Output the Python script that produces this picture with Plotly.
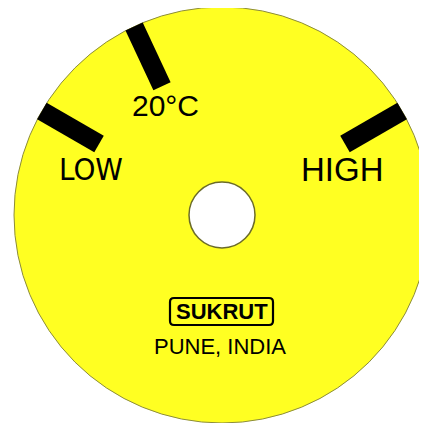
import numpy as np
import plotly.graph_objects as go

# ---- data ----
tick_labels = ["LOW", "20°C", "HIGH"]
tick_angles_deg = [150, 115, 30]      # dial angle of each black mark
brand = "SUKRUT"
place = "PUNE, INDIA"

# ---- geometry (layout) ----
R_OUT = 208
R_HOLE = 33
R_TICK_IN = 142
TICK_W = 19

fig = go.Figure()

shapes = []
shapes.append(dict(type="circle", xref="x", yref="y", x0=-R_OUT, y0=-R_OUT, x1=R_OUT, y1=R_OUT,
                   fillcolor="#FFFF22", line=dict(color="#8c8c3c", width=1), layer="below"))

for ang in tick_angles_deg:
    a = np.deg2rad(ang)
    ux, uy = np.cos(a), np.sin(a)
    px, py = -uy, ux
    h = TICK_W / 2
    xs = [R_TICK_IN * ux + h * px, R_OUT * ux + h * px, R_OUT * ux - h * px, R_TICK_IN * ux - h * px]
    ys = [R_TICK_IN * uy + h * py, R_OUT * uy + h * py, R_OUT * uy - h * py, R_TICK_IN * uy - h * py]
    fig.add_trace(go.Scatter(x=xs + [xs[0]], y=ys + [ys[0]], mode="lines", fill="toself",
                             fillcolor="black", line=dict(color="black", width=0),
                             hoverinfo="skip", showlegend=False))

shapes.append(dict(type="circle", xref="x", yref="y", x0=-R_HOLE, y0=-R_HOLE, x1=R_HOLE, y1=R_HOLE,
                   fillcolor="white", line=dict(color="#6b6b2a", width=1.5), layer="above"))

# rounded box around brand
bx0, bx1, by0, by1, rr = -52, 51, -110, -83, 4
path = (f"M {bx0+rr},{by0} L {bx1-rr},{by0} Q {bx1},{by0} {bx1},{by0+rr} "
        f"L {bx1},{by1-rr} Q {bx1},{by1} {bx1-rr},{by1} L {bx0+rr},{by1} "
        f"Q {bx0},{by1} {bx0},{by1-rr} L {bx0},{by0+rr} Q {bx0},{by0} {bx0+rr},{by0} Z")
shapes.append(dict(type="path", path=path, xref="x", yref="y",
                   line=dict(color="black", width=2.2), fillcolor="rgba(0,0,0,0)", layer="above"))

label_pos = {"LOW": (-131.5, 46), "20°C": (-57, 110), "HIGH": (120.5, 46)}
label_font = {"LOW": "DejaVu Sans Condensed, Liberation Sans Narrow, Liberation Sans, Arial",
              "20°C": "Liberation Sans, Arial", "HIGH": "Liberation Sans, Arial"}
label_size = {"LOW": 31, "20°C": 30, "HIGH": 33}
annotations = []
for lab in tick_labels:
    x, y = label_pos[lab]
    annotations.append(dict(x=x, y=y, xref="x", yref="y", text=lab, showarrow=False,
                            xanchor="center", yanchor="middle",
                            font=dict(family=label_font[lab], size=label_size[lab], color="black")))
annotations.append(dict(x=-0.5, y=-96, xref="x", yref="y", text=f"<b>{brand}</b>", showarrow=False,
                        xanchor="center", yanchor="middle",
                        font=dict(family="Liberation Sans, Arial", size=22, color="black")))
annotations.append(dict(x=-2.5, y=-131.5, xref="x", yref="y", text=place, showarrow=False,
                        xanchor="center", yanchor="middle",
                        font=dict(family="Liberation Sans, Arial", size=22, color="black")))

# page body has an 8px margin, so the plot starts at pixel (8, 8) of the window
fig.update_layout(
    width=419, height=415, margin=dict(l=0, r=0, t=0, b=0),
    paper_bgcolor="white", plot_bgcolor="white",
    xaxis=dict(range=[-214, 205], visible=False, fixedrange=True),
    yaxis=dict(range=[-208, 207], visible=False, fixedrange=True),
    shapes=shapes, annotations=annotations, showlegend=False,
)
fig.write_html("out.html", config={"displayModeBar": False})
